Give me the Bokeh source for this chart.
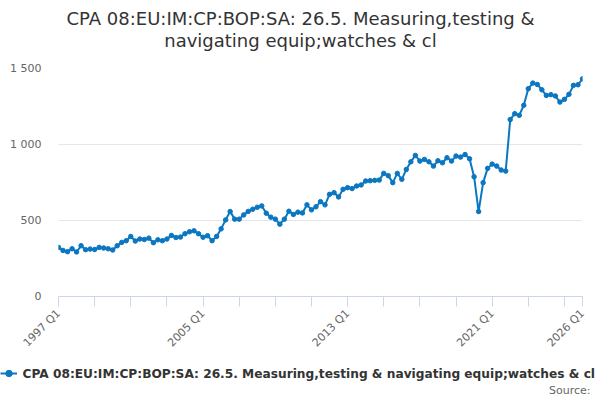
import math
from bokeh.plotting import figure
from bokeh.layouts import column
from bokeh.models import (Range1d, FixedTicker, Legend, LegendItem, ColumnDataSource, Label)
from bokeh.embed import file_html
from bokeh.resources import INLINE

title_lines = ["CPA 08:EU:IM:CP:BOP:SA: 26.5. Measuring,testing &",
               "navigating equip;watches & cl"]
series_name = "CPA 08:EU:IM:CP:BOP:SA: 26.5. Measuring,testing & navigating equip;watches & cl"

years = list(range(1997, 2027))
quarters = [f"{y} Q{q}" for y in years for q in (1, 2, 3, 4)][:117]

values = [
    323, 303, 295, 314, 293, 334, 308, 312, 309, 323, 319, 314, 306, 334, 356, 367,
    395, 365, 378, 375, 384, 354, 373, 367, 378, 402, 388, 391, 413, 426, 432, 413,
    390, 400, 367, 395, 445, 504, 559, 509, 509, 537, 560, 574, 587, 596, 548, 522,
    509, 476, 509, 561, 540, 555, 550, 603, 570, 590, 624, 603, 672, 683, 655, 705,
    716, 710, 727, 734, 760, 762, 764, 766, 810, 795, 749, 810, 771, 836, 886, 928,
    891, 902, 886, 858, 893, 880, 913, 891, 924, 917, 934, 906, 788, 559, 749, 843,
    871, 858, 832, 825, 1164, 1203, 1192, 1258, 1367, 1404, 1395, 1360, 1323, 1328, 1319, 1279,
    1297, 1330, 1389, 1393, 1432,
]

label_quarters = ["1997 Q1", "2005 Q1", "2013 Q1", "2021 Q1", "2026 Q1"]
y_ticks = [0, 500, 1000, 1500]
y_tick_labels = ["0", "500", "1 000", "1 500"]
source_text = "Source:"

FONT = "DejaVu Sans"
BLUE = "#0a77c0"
W = 600


def blank_fig(h):
    f = figure(width=W, height=h, output_backend="svg", toolbar_location=None,
               x_range=Range1d(0, W), y_range=Range1d(0, h),
               x_axis_location=None, y_axis_location=None,
               min_border=0, min_border_left=0, min_border_right=0,
               min_border_top=0, min_border_bottom=0, frame_align=False)
    f.outline_line_color = None
    f.grid.visible = False
    f.background_fill_color = "white"
    f.border_fill_color = "white"
    return f


# ---- title strip ----
TH = 60
pt = blank_fig(TH)
for txt, ty in zip(title_lines, [17.5, 40]):
    pt.add_layout(Label(x=300, y=TH - ty, text=txt, text_align="center",
                        text_baseline="middle", text_font=FONT,
                        text_font_size="18px", text_color="#333333"))

# ---- main chart ----
idx = list(range(len(values)))
src = ColumnDataSource(dict(x=idx, y=values, q=quarters))

MH = 297
p = figure(width=W, height=MH, output_backend="svg", toolbar_location=None,
           x_range=Range1d(0, len(values) - 1), y_range=Range1d(0, 1500),
           min_border_left=58, min_border_right=18, min_border_top=8, min_border_bottom=60,
           frame_align=False)
p.outline_line_color = None
p.background_fill_color = "white"
p.border_fill_color = "white"

ln = p.line("x", "y", source=src, line_color=BLUE, line_width=2)
sc = p.scatter("x", "y", source=src, size=4.5, fill_color=BLUE, line_color=BLUE)

major = [quarters.index(q) for q in label_quarters]
minor = [i for i in range(0, len(values), 8) if i not in major]
p.xaxis.ticker = FixedTicker(ticks=major, minor_ticks=minor)
p.xaxis.major_label_overrides = {quarters.index(q): q for q in label_quarters}
p.xaxis.axis_line_color = "#ccd6eb"
p.xaxis.major_tick_line_color = "#ccd6eb"
p.xaxis.minor_tick_line_color = "#ccd6eb"
p.xaxis.major_tick_in = 0
p.xaxis.major_tick_out = 10
p.xaxis.minor_tick_in = 0
p.xaxis.minor_tick_out = 10
p.xaxis.major_label_orientation = math.pi / 4
p.xaxis.major_label_text_font = FONT
p.xaxis.major_label_text_font_size = "11px"
p.xaxis.major_label_text_color = "#666666"
p.xaxis.major_label_standoff = 5
p.xgrid.grid_line_color = None

p.yaxis.ticker = FixedTicker(ticks=y_ticks, minor_ticks=[])
p.yaxis.major_label_overrides = dict(zip(y_ticks, y_tick_labels))
p.yaxis.axis_line_color = None
p.yaxis.major_tick_line_color = None
p.yaxis.minor_tick_line_color = None
p.yaxis.major_tick_out = 0
p.yaxis.major_tick_in = 0
p.yaxis.major_label_standoff = 17
p.yaxis.major_label_text_font = FONT
p.yaxis.major_label_text_font_size = "11px"
p.yaxis.major_label_text_color = "#666666"
p.ygrid.grid_line_color = "#e6e6e6"
p.ygrid.ticker = FixedTicker(ticks=y_ticks)

# ---- legend + source strip ----
LH = 400 - TH - MH
pl = blank_fig(LH)
nan = float("nan")
lsrc = ColumnDataSource(dict(x=[nan], y=[nan]))
l_ln = pl.line("x", "y", source=lsrc, line_color=BLUE, line_width=2)
l_sc = pl.scatter("x", "y", source=lsrc, size=4, fill_color=BLUE, line_color=BLUE)
leg = Legend(items=[LegendItem(label=" ", renderers=[l_ln, l_sc])],
             location=(0, LH - 16 - 8), orientation="horizontal",
             padding=0, margin=0, spacing=0, glyph_width=17, glyph_height=16,
             label_standoff=0, border_line_color=None, background_fill_alpha=0,
             label_text_font=FONT, label_text_font_size="12px",
             label_width=0, label_height=16)
pl.add_layout(leg, "center")
pl.add_layout(Label(x=22, y=LH - 16, text=series_name, text_align="left",
                    text_baseline="middle", text_font=FONT,
                    text_font_size="12.2px", text_font_style="bold",
                    text_color="#333333"))
pl.add_layout(Label(x=590, y=LH - 33, text=source_text, text_align="right",
                    text_baseline="middle", text_font=FONT,
                    text_font_size="11px", text_color="#666666"))

layout = column(pt, p, pl, spacing=0)
open("out.html", "w").write(file_html(layout, INLINE))
